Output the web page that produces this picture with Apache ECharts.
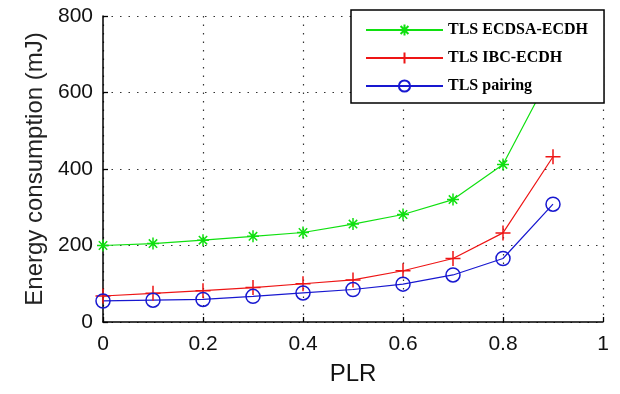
<!DOCTYPE html>
<html>
<head>
<meta charset="utf-8">
<script src="https://cdn.jsdelivr.net/npm/echarts@6/dist/echarts.min.js"></script>
<style>html,body{margin:0;padding:0;background:#fff;}#c{width:620px;height:394px;}</style>
</head>
<body>
<div id="c"></div>
<script>
const plr = [0, 0.1, 0.2, 0.3, 0.4, 0.5, 0.6, 0.7, 0.8, 0.9];
const ecdsa = [200, 205, 214, 224, 234, 256, 281, 320, 412, 660];
const ibc = [68, 75, 82, 90, 100, 110, 134, 166, 233, 432];
const pairing = [55, 57, 59, 67, 76, 85, 99, 123, 166, 308];
const seriesNames = ['TLS ECDSA-ECDH', 'TLS IBC-ECDH', 'TLS pairing'];

const asterisk = 'path://M6,0 L6,12 M0,6 L12,6 M1.8,1.8 L10.2,10.2 M10.2,1.8 L1.8,10.2';
const plus = 'path://M7,0 L7,14 M0,7 L14,7';
const circle = 'path://M12,6 A6,6 0 1 1 0,6 A6,6 0 1 1 12,6 Z';

function mk(name, data, color, symbol, size) {
  return {
    name: name, type: 'line',
    data: plr.map((x, i) => [x, data[i]]),
    symbol: symbol, symbolSize: size,
    lineStyle: { color: color, width: 1.2 },
    itemStyle: { color: 'rgba(0,0,0,0)', borderColor: color, borderWidth: 1.5 },
    emphasis: { disabled: true },
    animation: false
  };
}

const chart = echarts.init(document.getElementById('c'), null, { renderer: 'canvas' });
const gridLine = { show: true, lineStyle: { color: '#333', width: 1.2, type: [1.5, 7] } };
chart.setOption({
  backgroundColor: '#fff',
  animation: false,
  grid: { left: 103, right: 17, top: 16, bottom: 72 },
  xAxis: {
    type: 'value', min: 0, max: 1, interval: 0.2,
    name: 'PLR', nameLocation: 'middle', nameGap: 40,
    nameTextStyle: { fontFamily: 'Liberation Sans', fontSize: 24, color: '#111' },
    axisLine: { show: true, lineStyle: { color: '#000', width: 1.5 } },
    axisTick: { show: true, inside: true, length: 5, lineStyle: { color: '#000', width: 1.3 } },
    axisLabel: { fontFamily: 'Liberation Sans', fontSize: 21, color: '#111', margin: 12 },
    splitLine: gridLine
  },
  yAxis: {
    type: 'value', min: 0, max: 800, interval: 200,
    name: 'Energy consumption (mJ)', nameLocation: 'middle', nameGap: 52,
    nameTextStyle: { fontFamily: 'Liberation Sans', fontSize: 24, color: '#222' },
    axisLine: { show: true, lineStyle: { color: '#000', width: 1.5 } },
    axisTick: { show: true, inside: true, length: 5, lineStyle: { color: '#000', width: 1.3 } },
    axisLabel: { fontFamily: 'Liberation Sans', fontSize: 21, color: '#111', margin: 10 },
    splitLine: gridLine
  },
  legend: {
    orient: 'vertical', left: 351, top: 10,
    data: seriesNames,
    backgroundColor: '#fff', borderColor: '#000', borderWidth: 1.5,
    padding: [12, 16, 9, 14],
    itemWidth: 77, itemHeight: 14, itemGap: 12,
    textStyle: { fontFamily: 'Liberation Serif', fontWeight: 'bold', fontSize: 16, color: '#000' },
    selectedMode: false
  },
  series: [
    mk(seriesNames[0], ecdsa, '#10e010', asterisk, 12),
    mk(seriesNames[1], ibc, '#ee1515', plus, 15),
    mk(seriesNames[2], pairing, '#1818d0', circle, 14)
  ]
});
</script>
</body>
</html>
